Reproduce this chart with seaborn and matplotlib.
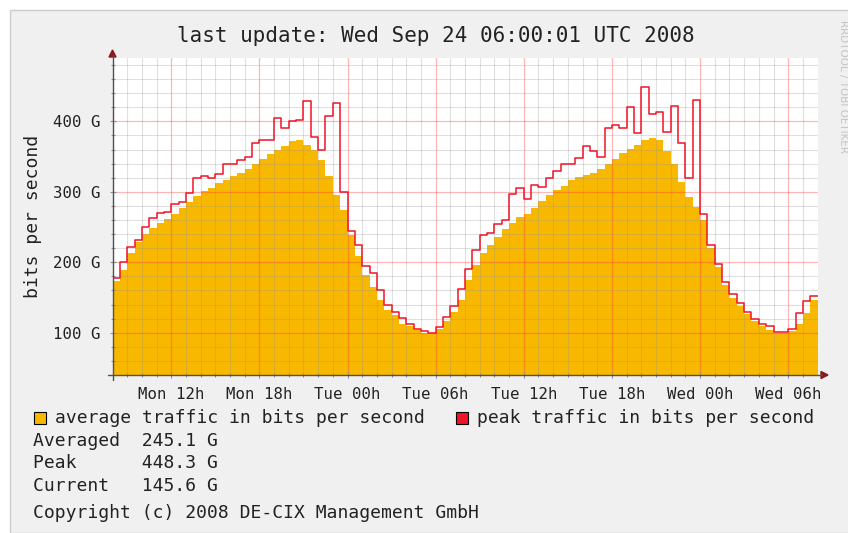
import numpy as np
import pandas as pd
import matplotlib
matplotlib.use("Agg")
import matplotlib.pyplot as plt
from matplotlib.lines import Line2D
from matplotlib.patches import Rectangle, Polygon
import seaborn as sns

# half-hour slots, hours since Mon 08:00 (local time)
hours = np.arange(0, 48, 0.5)

# traffic in G bit/s
avg_traffic = [
    173, 189, 213, 229, 240, 248, 256, 262, 269, 277, 285, 294, 301, 306, 312, 317, 322, 327, 333, 339,
    346, 354, 359, 365, 372, 373, 367, 359, 345, 322, 296, 274, 239, 209, 182, 165, 147, 132, 125, 113,
    109, 104, 100, 100, 106, 116, 130, 147, 175, 196, 213, 225, 236, 247, 256, 265, 269, 277,
    287, 295, 302, 308, 317, 321, 324, 327, 332, 339, 347, 355, 361, 366, 373, 376, 374, 358, 339, 314,
    293, 279, 260, 220, 194, 168, 150, 138, 127, 116, 109, 104, 100, 99, 103, 113, 128, 146,
]
peak_traffic = [
    178, 200, 222, 232, 250, 263, 270, 272, 283, 285, 298, 320, 322, 320, 325, 340, 340, 345, 350, 370,
    373, 374, 405, 390, 400, 402, 429, 378, 360, 408, 426, 300, 245, 225, 195, 185, 160, 140, 130, 121,
    113, 106, 102, 100, 108, 122, 138, 162, 190, 218, 239, 241, 255, 260, 297, 305, 290, 310,
    307, 319, 329, 340, 340, 348, 365, 358, 350, 390, 395, 390, 420, 383, 448.3, 410, 414, 385, 422, 370,
    320, 431, 268, 225, 198, 172, 155, 142, 130, 119, 112, 109, 101, 101, 106, 128, 145, 152,
]

x_tick_hours = [4, 10, 16, 22, 28, 34, 40, 46]
x_tick_labels = ["Mon 12h", "Mon 18h", "Tue 00h", "Tue 06h", "Tue 12h", "Tue 18h", "Wed 00h", "Wed 06h"]
y_ticks = [100, 200, 300, 400]
y_tick_labels = ["100 G", "200 G", "300 G", "400 G"]

stats_names = ["Averaged", "Peak", "Current"]
stats_values = ["245.1 G", "448.3 G", "145.6 G"]

df = pd.DataFrame({"hour": hours, "avg": avg_traffic, "peak": peak_traffic})

W, H = 848, 533
AVG_COLOR = "#f9b800"
PEAK_COLOR = "#f01428"
TEXT = "#222222"

sns.set_theme(style="white")
plt.rcParams["font.family"] = ["DejaVu Sans Mono"]

fig = plt.figure(figsize=(W / 100, H / 100), dpi=100, facecolor="white")


def fx(x):
    return x / W


def fy(y):
    return 1 - y / H


# canvas
fig.add_artist(Rectangle((fx(10), 0), 1, fy(10), transform=fig.transFigure,
                         facecolor="#f0f0f0", edgecolor="#cccccc", lw=1, zorder=0))

left, right, top, bottom = 112.5, 817.6, 58, 375
ax = fig.add_axes([fx(left), fy(bottom), fx(right - left), (bottom - top) / H])
ax.set_facecolor("white")

sns.histplot(data=df, x="hour", weights="avg", binwidth=0.5, binrange=(0, 48),
             element="step", fill=True, color=AVG_COLOR, alpha=1, linewidth=0, ax=ax, zorder=1)
sns.histplot(data=df, x="hour", weights="peak", binwidth=0.5, binrange=(0, 48),
             element="step", fill=False, color=PEAK_COLOR, linewidth=1.1, ax=ax, zorder=3)

ax.set_xlim(0, 48)
ax.set_ylim(40, 490)
ax.set_xlabel("")
ax.set_ylabel("")
ax.set_xticks(x_tick_hours)
ax.set_xticklabels(x_tick_labels)
ax.set_xticks(np.arange(1, 48), minor=True)
ax.set_yticks(y_ticks)
ax.set_yticklabels(y_tick_labels)
ax.set_yticks(np.arange(60, 490, 20), minor=True)
ax.set_axisbelow(False)
ax.grid(which="minor", color="#909090", alpha=0.28, lw=0.8)
ax.grid(which="major", color="#ff3030", alpha=0.35, lw=0.9)
ax.tick_params(which="both", direction="inout", color="#909090", width=0.8,
               bottom=True, left=True, labelsize=11.3, labelcolor=TEXT)
ax.tick_params(which="major", length=5, pad=6)
ax.tick_params(which="minor", length=3)
for s in ax.spines.values():
    s.set_visible(False)

# axis lines with arrow heads
fig.add_artist(Line2D([fx(108), fx(822)], [fy(375), fy(375)], color="#505050", lw=1, transform=fig.transFigure))
fig.add_artist(Line2D([fx(112.5), fx(112.5)], [fy(380), fy(55)], color="#505050", lw=1, transform=fig.transFigure))
fig.add_artist(Polygon([(fx(821), fy(371.5)), (fx(828), fy(375)), (fx(821), fy(378.5))],
                       closed=True, color="#8b1a1a", transform=fig.transFigure))
fig.add_artist(Polygon([(fx(109), fy(57)), (fx(112.5), fy(50)), (fx(116), fy(57))],
                       closed=True, color="#8b1a1a", transform=fig.transFigure))

fig.text(fx(436), fy(36), "last update: Wed Sep 24 06:00:01 UTC 2008",
         ha="center", va="center", fontsize=15, color=TEXT)
fig.text(fx(33), fy(216), "bits per second", rotation=90, ha="center", va="center",
         fontsize=13, color=TEXT)
fig.text(fx(843), fy(20), "RRDTOOL / TOBI OETIKER", rotation=-90, ha="center", va="top",
         fontsize=7.5, color="#c4c4c4", family="DejaVu Sans")

# legend
for x0, color, label in [(34, AVG_COLOR, "average traffic in bits per second"),
                         (456, PEAK_COLOR, "peak traffic in bits per second")]:
    fig.add_artist(Rectangle((fx(x0), fy(424)), 12 / W, 12 / H, transform=fig.transFigure,
                             facecolor=color, edgecolor="#000000", lw=0.8))
    fig.text(fx(x0 + 21), fy(418), label, ha="left", va="center", fontsize=13, color=TEXT)

for i, (name, val) in enumerate(zip(stats_names, stats_values)):
    fig.text(fx(33), fy(441 + i * 22.5), f"{name:<10}{val}", ha="left", va="center",
             fontsize=13, color=TEXT)

fig.text(fx(33), fy(513), "Copyright (c) 2008 DE-CIX Management GmbH", ha="left", va="center",
         fontsize=13, color=TEXT)

fig.savefig("out.png", dpi=100, facecolor=fig.get_facecolor())
